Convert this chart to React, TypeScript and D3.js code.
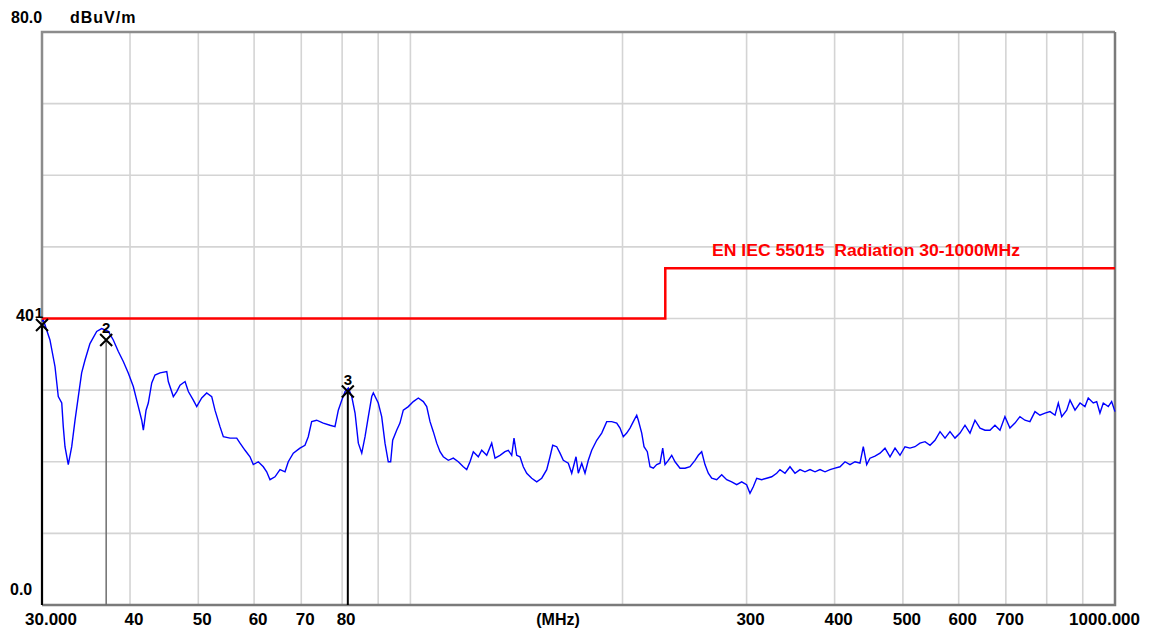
import { useEffect, useRef } from 'react';
import * as d3 from "d3";

// Trace (frequency in MHz, level in dBuV/m)
const traceFreq = [
  30.0, 30.13, 30.79, 31.3, 31.64, 32.0, 32.16, 32.34, 32.69, 33.06, 33.42, 33.78, 34.15, 34.53, 35.09, 35.87,
  36.46, 37.26, 37.87, 38.5, 39.13, 39.77, 40.43, 41.1, 41.56, 41.78, 42.15, 42.46, 42.94, 43.4, 44.12, 45.1,
  45.33, 46.08, 46.6, 47.1, 47.88, 48.4, 49.19, 49.74, 50.56, 51.39, 52.24, 52.8, 53.67, 54.26, 55.46, 56.69,
  57.3, 58.25, 59.2, 59.84, 60.83, 61.83, 62.52, 63.2, 64.24, 65.3, 66.38, 67.09, 68.2, 69.7, 70.85, 71.62,
  72.42, 73.61, 75.22, 76.88, 78.15, 79.01, 79.9, 80.76, 81.64, 82.55, 83.45, 84.35, 85.3, 86.22, 87.15, 88.13,
  88.59, 90.03, 91.04, 92.03, 93.02, 93.75, 94.37, 95.61, 96.64, 97.7, 99.32, 100.95, 102.62, 104.31, 105.47, 106.62,
  107.77, 108.98, 110.16, 111.35, 113.18, 115.05, 116.94, 118.87, 120.2, 121.5, 122.82, 124.84, 126.24, 128.32, 130.43, 131.85,
  134.02, 136.23, 137.7, 139.24, 140.29, 141.53, 143.07, 144.62, 146.24, 148.65, 151.1, 153.59, 156.12, 157.81, 159.21, 161.31,
  163.05, 164.82, 167.53, 169.41, 171.81, 173.1, 175.04, 176.93, 178.85, 180.85, 183.83, 186.86, 189.94, 193.06, 196.25, 198.37,
  200.52, 202.76, 204.96, 207.18, 209.5, 210.6, 212.96, 214.56, 216.88, 218.8, 221.18, 223.64, 226.08, 228.08, 229.8, 232.3,
  234.88, 237.44, 241.34, 245.32, 249.36, 253.46, 256.22, 259.06, 261.87, 264.71, 267.67, 272.07, 276.56, 281.11, 285.74, 290.45,
  295.23, 300.0, 303.36, 306.63, 310.08, 315.18, 320.37, 325.65, 331.02, 334.59, 340.11, 345.72, 351.42, 357.21, 363.09, 369.1,
  375.18, 381.36, 387.65, 394.03, 400.52, 407.1, 413.8, 420.6, 427.6, 434.6, 439.3, 444.2, 449.0, 456.4, 464.0, 471.6,
  479.4, 487.3, 495.3, 503.4, 511.7, 520.1, 528.7, 537.5, 546.3, 555.3, 564.5, 573.8, 583.2, 592.8, 602.6, 612.5,
  622.6, 632.8, 643.3, 653.9, 664.6, 675.5, 686.7, 697.9, 709.4, 721.1, 733.0, 745.1, 757.3, 769.9, 782.5, 795.6,
  808.7, 822.0, 830.9, 840.2, 854.0, 863.3, 877.5, 892.0, 906.5, 916.3, 931.4, 941.9, 952.0, 962.4, 978.2, 989.1,
  1000.0,
];
const traceLevel = [
  39.6, 39.8, 37.0, 33.3, 29.1, 28.2, 24.9, 22.1, 19.6, 22.1, 25.8, 29.1, 32.4, 34.2, 36.5, 38.2,
  38.6, 38.2, 37.0, 35.4, 34.0, 32.4, 30.5, 27.7, 25.8, 24.4, 27.2, 28.2, 31.0, 32.1, 32.4, 32.6,
  31.2, 29.1, 29.8, 30.7, 31.2, 29.8, 28.6, 27.7, 28.9, 29.6, 29.1, 27.2, 24.9, 23.5, 23.3, 23.3,
  22.6, 21.6, 20.7, 19.6, 20.0, 19.3, 18.6, 17.5, 17.9, 18.9, 18.6, 20.0, 21.2, 21.9, 22.3, 23.5,
  25.6, 25.8, 25.4, 25.1, 24.9, 27.2, 28.6, 29.8, 30.3, 29.1, 26.8, 22.6, 21.2, 23.5, 26.3, 29.1,
  29.6, 28.2, 26.3, 22.6, 20.0, 20.0, 23.0, 24.4, 25.4, 27.2, 27.7, 28.4, 28.9, 28.4, 27.7, 25.6,
  24.2, 22.6, 21.4, 20.7, 20.2, 20.5, 20.0, 19.3, 18.9, 20.0, 21.4, 20.7, 21.6, 20.9, 22.6, 20.5,
  20.9, 21.4, 21.6, 20.9, 23.3, 20.9, 20.7, 19.3, 18.4, 17.7, 17.2, 17.7, 18.9, 20.7, 22.3, 22.1,
  21.2, 20.2, 19.8, 18.4, 20.7, 18.4, 19.8, 18.4, 20.2, 21.6, 23.0, 24.0, 25.6, 25.6, 25.4, 24.7,
  23.5, 24.0, 24.7, 25.6, 26.5, 25.8, 24.0, 22.1, 21.4, 19.3, 19.1, 19.6, 19.8, 21.9, 19.6, 20.2,
  20.9, 20.0, 19.1, 19.1, 19.3, 20.2, 20.9, 21.4, 19.6, 18.4, 17.7, 17.5, 18.2, 17.5, 17.2, 16.8,
  17.2, 16.8, 15.6, 16.5, 17.7, 17.5, 17.7, 17.9, 18.4, 18.9, 18.4, 19.3, 18.4, 18.9, 18.6, 18.9,
  18.6, 18.9, 18.6, 18.9, 19.1, 19.3, 20.0, 19.6, 20.0, 19.8, 22.1, 19.6, 20.5, 20.8, 21.2, 21.9,
  20.7, 21.9, 20.9, 22.1, 21.9, 22.1, 22.6, 22.8, 22.3, 23.0, 24.2, 23.3, 24.2, 23.3, 24.0, 25.1,
  24.0, 25.8, 24.7, 24.4, 24.4, 25.1, 24.4, 26.3, 24.7, 25.4, 26.3, 25.8, 25.6, 27.0, 26.5, 26.8,
  27.0, 26.5, 28.2, 26.3, 27.2, 28.6, 27.2, 28.2, 27.7, 28.9, 28.2, 28.4, 26.8, 28.2, 27.7, 28.4,
  27.0,
];

// Limit line EN IEC 55015
const limitFreq = [30, 230, 230, 1000];
const limitLevel = [40, 40, 47, 47];
const limitName = "EN IEC 55015  Radiation 30-1000MHz";

// Markers
const markerNo = ["1", "2", "3"];
const markerFreq = [30.0, 37.0, 81.5];
const markerLevel = [39.1, 37.0, 29.8];

// Axis
const gridFreq = [40, 50, 60, 70, 80, 90, 100, 200, 300, 400, 500, 600, 700, 800, 900];
const gridLevel = [10, 20, 30, 40, 50, 60, 70];
const xTickFreq = [30, 40, 50, 60, 70, 80, 300, 400, 500, 600, 700, 1000];
const xTickText = ["30.000", "40", "50", "60", "70", "80", "300", "400", "500", "600", "700", "1000.000"];

export default function App() {
  const chartRef = useRef<SVGSVGElement>(null);

  useEffect(() => {
    if (!chartRef.current) return;
    d3.select(chartRef.current).selectAll("*").remove();

    const width = 1151;
    const height = 632;
    const left = 42, right = 1115, top = 32, bottom = 605;
    const font = "'Liberation Sans', Arial, sans-serif";

    const x = d3.scaleLog().domain([30, 1000]).range([left, right]);
    const y = d3.scaleLinear().domain([0, 80]).range([bottom, top]);

    const svg = d3.select(chartRef.current)
      .attr("viewBox", [0, 0, width, height])
      .attr("width", width)
      .attr("height", height)
      .style("background", "#fff");

    // grid
    svg.append("g")
      .selectAll("line")
      .data(gridFreq)
      .join("line")
      .attr("x1", d => x(d)).attr("x2", d => x(d))
      .attr("y1", top).attr("y2", bottom)
      .attr("stroke", "#d4d4d4")
      .attr("stroke-width", 1.6);

    svg.append("g")
      .selectAll("line")
      .data(gridLevel)
      .join("line")
      .attr("x1", left).attr("x2", right)
      .attr("y1", d => y(d)).attr("y2", d => y(d))
      .attr("stroke", "#d4d4d4")
      .attr("stroke-width", 1.6);

    // frame
    svg.append("path")
      .attr("d", `M${left},${bottom}V${top}H${right}`)
      .attr("fill", "none")
      .attr("stroke", "#8c8c8c")
      .attr("stroke-width", 2.5);
    svg.append("path")
      .attr("d", `M${left},${bottom}H${right}V${top}`)
      .attr("fill", "none")
      .attr("stroke", "#7a7a7a")
      .attr("stroke-width", 2.5);

    // trace
    const line = d3.line<number>()
      .x((_, i) => x(traceFreq[i]))
      .y(d => y(d));
    svg.append("path")
      .datum(traceLevel)
      .attr("d", line)
      .attr("fill", "none")
      .attr("stroke", "#0000ff")
      .attr("stroke-width", 1.4);

    // limit
    const limLine = d3.line<number>()
      .x((_, i) => x(limitFreq[i]))
      .y(d => y(d));
    svg.append("path")
      .datum(limitLevel)
      .attr("d", limLine)
      .attr("fill", "none")
      .attr("stroke", "#ff0000")
      .attr("stroke-width", 2.5);

    svg.append("text")
      .attr("x", 712)
      .attr("y", y(limitLevel[3]) - 12)
      .attr("textLength", 308)
      .attr("lengthAdjust", "spacingAndGlyphs")
      .style("white-space", "pre")
      .style("font-family", font)
      .style("font-weight", "bold")
      .style("font-size", "16px")
      .attr("fill", "#ff0000")
      .text(limitName);

    // markers
    const mk = svg.append("g")
      .selectAll("g")
      .data(markerNo)
      .join("g");

    mk.append("line")
      .attr("x1", (_, i) => x(markerFreq[i]))
      .attr("x2", (_, i) => x(markerFreq[i]))
      .attr("y1", (_, i) => y(markerLevel[i]))
      .attr("y2", bottom)
      .attr("stroke", (_, i) => i === 1 ? "#6e6e6e" : "#000")
      .attr("stroke-width", (_, i) => i === 1 ? 1.5 : 2);

    mk.append("path")
      .attr("d", (_, i) => {
        const cx = x(markerFreq[i]), cy = y(markerLevel[i]);
        return `M${cx - 6},${cy - 6}L${cx + 6},${cy + 6}M${cx - 6},${cy + 6}L${cx + 6},${cy - 6}`;
      })
      .attr("stroke", "#000")
      .attr("stroke-width", 2);

    mk.append("text")
      .attr("x", (_, i) => x(markerFreq[i]) + (i === 0 ? -3 : 0))
      .attr("y", (_, i) => y(markerLevel[i]) - 7)
      .attr("text-anchor", "middle")
      .style("font-family", font)
      .style("font-weight", "bold")
      .style("font-size", "15px")
      .attr("fill", "#000")
      .text(d => d);

    // x tick labels
    svg.append("g")
      .selectAll("text")
      .data(xTickFreq)
      .join("text")
      .attr("x", (d, i) => i === 0 ? x(d) - 17 : i === xTickFreq.length - 1 ? x(d) + 25 : x(d) + 4)
      .attr("y", 625)
      .attr("text-anchor", (_, i) => i === 0 ? "start" : i === xTickFreq.length - 1 ? "end" : "middle")
      .style("font-family", font)
      .style("font-weight", "bold")
      .style("font-size", "17px")
      .attr("fill", "#000")
      .text((_, i) => xTickText[i]);

    svg.append("text")
      .attr("x", 558).attr("y", 625)
      .attr("text-anchor", "middle")
      .style("font-family", font)
      .style("font-weight", "bold")
      .style("font-size", "16px")
      .text("(MHz)");

    // y labels
    const yLab = (t: string, px: number, py: number) =>
      svg.append("text")
        .attr("x", px).attr("y", py)
        .style("font-family", font)
        .style("font-weight", "bold")
        .style("font-size", "16px")
        .attr("fill", "#000")
        .text(t);
    yLab("80.0", 11, 23);
    yLab("dBuV/m", 70, 23).attr("letter-spacing", 1);
    yLab("0.0", 10, 595);
    yLab("40", 16, y(40) + 2);
  }, []);

  return (
    <div style={{ position: "absolute", left: 0, top: 0 }}>
      <svg ref={chartRef}></svg>
    </div>
  );
}
